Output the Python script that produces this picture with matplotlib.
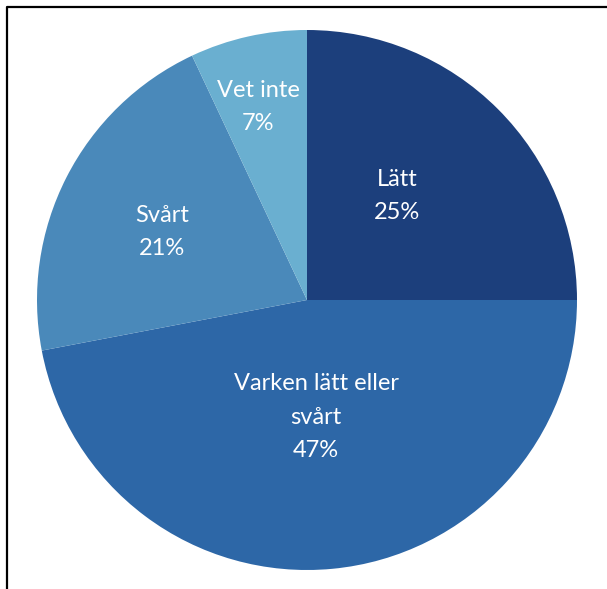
import matplotlib
matplotlib.use("Agg")
import matplotlib.pyplot as plt
from matplotlib.lines import Line2D
import numpy as np

labels = ["Lätt", "Varken lätt eller\nsvårt", "Svårt", "Vet inte"]
values = [25, 47, 21, 7]
colors = ["#1C3F7C", "#2D67A7", "#4A89BA", "#6AAFD0"]
label_dist = [0.509, 0.435, 0.593, 0.737]
label_ang_shift = [4.1, -1.0, 1.9, 1.6]

W, H = 607, 589
fig = plt.figure(figsize=(W / 100, H / 100), dpi=100)
ax = fig.add_axes([37 / W, 19 / H, 540 / W, 540 / H])
wedges, _ = ax.pie(values, colors=colors, startangle=90, counterclock=False,
                   radius=1.0, wedgeprops=dict(linewidth=0))
ax.set_xlim(-1, 1)
ax.set_ylim(-1, 1)
ax.set_aspect("equal")
ax.axis("off")

for w, lab, v, d, s in zip(wedges, labels, values, label_dist, label_ang_shift):
    ang = np.deg2rad((w.theta1 + w.theta2) / 2 + s)
    ax.text(d * np.cos(ang), d * np.sin(ang), f"{lab}\n{v}%", ha="center", va="center",
            color="white", fontsize=17, family=["Lato", "DejaVu Sans"],
            linespacing=1.72)

# frame (partially cropped)
x0 = 7 / W
y0 = 1 - 7 / H
fig.add_artist(Line2D([x0, x0, 1.01], [-0.01, y0, y0], color="black", lw=1.6,
                      transform=fig.transFigure))

fig.savefig("out.png", dpi=100, facecolor="white")
